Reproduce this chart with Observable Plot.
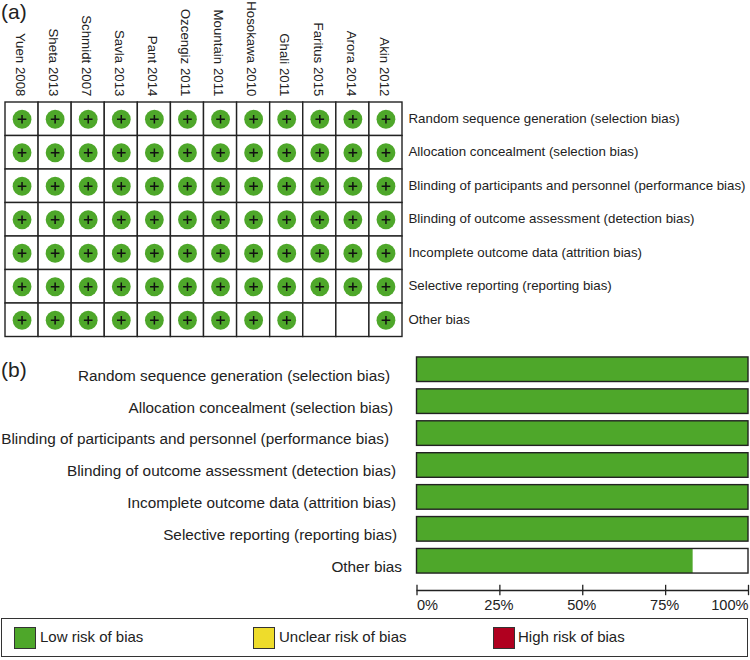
<!DOCTYPE html>
<html><head><meta charset="utf-8">
<script src="https://cdn.jsdelivr.net/npm/d3@7"></script>
<script src="https://cdn.jsdelivr.net/npm/@observablehq/plot@0.6"></script>
<style>
html,body{margin:0;padding:0;background:#fff;width:750px;height:660px;overflow:hidden}
#root{position:relative;width:750px;height:660px;font-family:"Liberation Sans",Arial,sans-serif;color:#222}
#root>svg,#root>div{position:absolute;display:block}
.panel{font-size:21px}
#legend{left:1px;top:618px;width:745px;height:37px;border:1.5px solid #333;box-sizing:content-box}
#legend span.s{position:absolute;top:8px;width:20px;height:20px;border:1px solid #333}
#legend span.t{position:absolute;top:9px;font-size:15px;line-height:18px;white-space:nowrap}
</style></head><body><div id="root"></div>
<script>
const studies = ["Yuen 2008","Sheta 2013","Schmidt 2007","Savla 2013","Pant 2014","Ozcengiz 2011","Mountain 2011","Hosokawa 2010","Ghali 2011","Faritus 2015","Arora 2014","Akin 2012"];
const domains = ["Random sequence generation (selection bias)","Allocation concealment (selection bias)","Blinding of participants and personnel (performance bias)","Blinding of outcome assessment (detection bias)","Incomplete outcome data (attrition bias)","Selective reporting (reporting bias)","Other bias"];
// one row per domain, one letter per study: L = low risk, blank = not judged
const judgements = ["LLLLLLLLLLLL","LLLLLLLLLLLL","LLLLLLLLLLLL","LLLLLLLLLLLL","LLLLLLLLLLLL","LLLLLLLLLLLL","LLLLLLLLL  L"];
const lowRiskPercent = [100,100,100,100,100,100,83.3];
const axisTicks = [0,25,50,75,100];
const legendLabels = ["Low risk of bias","Unclear risk of bias","High risk of bias"];
const legendColors = ["#4EA72A","#EEDC2B","#B0001F"];

const GREEN = legendColors[0];
const FONT = '"Liberation Sans",Arial,sans-serif';
const INK = "#222";
const root = document.getElementById("root");
const place = (el, top) => { el.style.left = "0px"; el.style.top = top + "px"; root.appendChild(el); };

// (a) study grid
const cells = domains.flatMap((d,i) => studies.map((s,j) => ({study:s, domain:d, j:judgements[i][j]})));
const low = cells.filter(c => c.j === "L");
const gridPlot = Plot.plot({
  width:750, height:345, marginLeft:5, marginRight:348, marginTop:102, marginBottom:8.5,
  style:{fontFamily:FONT, fontSize:"13.3px", color:INK, background:"transparent"},
  x:{domain:studies, padding:0, round:false, axis:null},
  y:{domain:domains, padding:0, round:false, axis:null},
  marks:[
    Plot.cell(cells,{x:"study",y:"domain",fill:"white",stroke:"#222",strokeWidth:1.4}),
    Plot.dot(low,{x:"study",y:"domain",r:9.4,fill:GREEN}),
    Plot.dot(low,{x:"study",y:"domain",r:2.9,symbol:"plus",stroke:"#111",strokeWidth:1.5}),
    Plot.axisX({anchor:"top",tickSize:0,tickPadding:6,tickRotate:90,label:null,fontSize:13.3,dx:-2}),
    Plot.axisY({anchor:"right",tickSize:0,tickPadding:6,label:null,textAnchor:"start",fontSize:13.3,lineWidth:40,dy:-0.7})
  ]
});
place(gridPlot,0);

// (b) summary bars
const nudge = [-7,-4,-8,-1,-1,0,5];
const barPlot = Plot.plot({
  width:750, height:250, marginLeft:416.5, marginRight:2, marginTop:4.6, marginBottom:14.6,
  style:{fontFamily:FONT, fontSize:"15.3px", color:INK, background:"transparent"},
  x:{domain:[0,100], axis:null},
  y:{domain:domains, padding:0.23, round:false, axis:null},
  marks:[
    Plot.barX(domains,{x1:0,x2:100,y:d=>d,fill:"white"}),
    Plot.barX(domains,{x1:0,x2:(d,i)=>lowRiskPercent[i],y:d=>d,fill:GREEN}),
    Plot.barX(domains,{x1:0,x2:100,y:d=>d,fill:"none",stroke:"#222",strokeWidth:1.4}),
    ...domains.map((d,i)=>Plot.text([d],{y:e=>e,frameAnchor:"left",textAnchor:"end",dx:-20+nudge[i],dy:6,text:e=>e,lineWidth:60,fill:INK}))
  ]
});
place(barPlot,345);

// percentage axis
const axisPlot = Plot.plot({
  width:750, height:40, marginLeft:416.5, marginRight:2, marginTop:0, marginBottom:0,
  style:{fontFamily:FONT, fontSize:"14.6px", color:INK, background:"transparent"},
  x:{domain:[0,100], axis:null},
  y:{domain:[0,1], range:[0,40], axis:null},
  marks:[
    Plot.ruleY([0.25],{stroke:"#222",strokeWidth:1.3}),
    Plot.ruleX(axisTicks,{x:d=>d,y1:0.12,y2:0.38,stroke:"#222",strokeWidth:1.3}),
    Plot.text(axisTicks.filter(t=>t===0),{x:d=>d,y:0.63,text:d=>d+"%",textAnchor:"start"}),
    Plot.text(axisTicks.filter(t=>t>0&&t<100),{x:d=>d,y:0.63,text:d=>d+"%",dx:-1}),
    Plot.text(axisTicks.filter(t=>t===100),{x:d=>d,y:0.63,text:d=>d+"%",textAnchor:"end"})
  ]
});
place(axisPlot,580);

// panel letters
[["(a)",1,0],["(b)",1,358]].forEach(([t,l,tp])=>{
  const d=document.createElement("div");d.className="panel";d.textContent=t;d.style.left=l+"px";d.style.top=tp+"px";root.appendChild(d);
});

// legend
const legend=document.createElement("div");legend.id="legend";
const swatchX=[12,251,491];
const labelX=[38,277,516];
legendLabels.forEach((t,i)=>{
  const s=document.createElement("span");s.className="s";s.style.left=swatchX[i]+"px";s.style.background=legendColors[i];legend.appendChild(s);
  const l=document.createElement("span");l.className="t";l.style.left=labelX[i]+"px";l.textContent=t;legend.appendChild(l);
});
root.appendChild(legend);
</script></body></html>
